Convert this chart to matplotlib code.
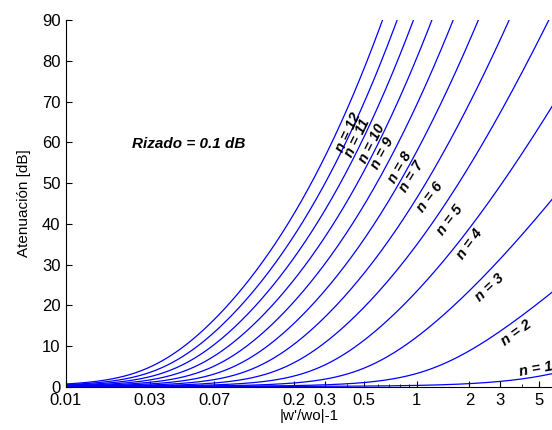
import numpy as np
import matplotlib
matplotlib.use('Agg')
import matplotlib.pyplot as plt

# ---------------- Chebyshev response parameters ----------------
ripple_db = 0.1                       # passband ripple (dB)
orders = [1, 2, 3, 4, 5, 6, 7, 8, 9, 10, 11, 12]

# label anchor (x in |w'/wo|-1, y in dB) and rotation for each order
label_x = [3.86, 3.71, 2.61, 2.00, 1.54, 1.19, 0.94, 0.80, 0.64, 0.554, 0.461, 0.405]
label_y = [3.7, 13.2, 24.5, 35.1, 40.9, 46.6, 51.5, 53.9, 57.4, 59.8, 61.1, 62.5]
label_rot = [10, 36, 43, 54, 53, 53, 58, 60, 62, 63, 64, 65]

xticks = [0.01, 0.03, 0.07, 0.2, 0.3, 0.5, 1, 2, 3, 5]
xtick_labels = ['0.01', '0.03', '0.07', '0.2', '0.3', '0.5', '1', '2', '3', '5']
yticks = [0, 10, 20, 30, 40, 50, 60, 70, 80, 90]

# ---------------- Attenuation curves ----------------
eps2 = 10 ** (ripple_db / 10) - 1
x = np.logspace(-2, np.log10(6), 600)
w = 1 + x

plt.rcParams['font.family'] = ['Liberation Sans', 'DejaVu Sans']
fig = plt.figure(figsize=(5.52, 4.30), dpi=100)
ax = fig.add_axes([66 / 552, 43 / 430, 487 / 552, 367 / 430])

for n in orders:
    cn = np.cosh(n * np.arccosh(w))
    att = 10 * np.log10(1 + eps2 * cn ** 2)
    ax.plot(x, att, color='#0000ff', lw=0.9)

for n, lx, ly, rot in zip(orders, label_x, label_y, label_rot):
    ha = 'left' if n == 1 else 'center'
    ax.text(lx, ly, 'n = %d' % n, rotation=rot, ha=ha, va='center',
            fontsize=10.5, fontweight='bold', fontstyle='italic', rotation_mode='anchor',
            clip_on=False)

ax.text(0.050, 59.6, 'Rizado = 0.1 dB', fontsize=11, fontweight='bold', fontstyle='italic',
        ha='center', va='center')

# ---------------- Axes ----------------
ax.set_xscale('log')
ax.set_xlim(0.01, 6)
ax.set_ylim(0, 90)
ax.set_xticks(xticks)
ax.set_xticklabels(xtick_labels)
ax.set_yticks(yticks)
ax.tick_params(which='major', direction='in', length=4, width=0.8, labelsize=12, pad=4)
ax.tick_params(which='minor', direction='in', length=2.5, width=0.6)
ax.tick_params(axis='x', which='minor', labelbottom=False)
ax.spines['top'].set_visible(False)
ax.spines['right'].set_visible(False)

ax.set_xlabel("|w'/wo|-1", fontsize=11, labelpad=1)
ax.set_ylabel('Atenuación [dB]', fontsize=11, labelpad=8)

plt.savefig('out.png', dpi=100)
